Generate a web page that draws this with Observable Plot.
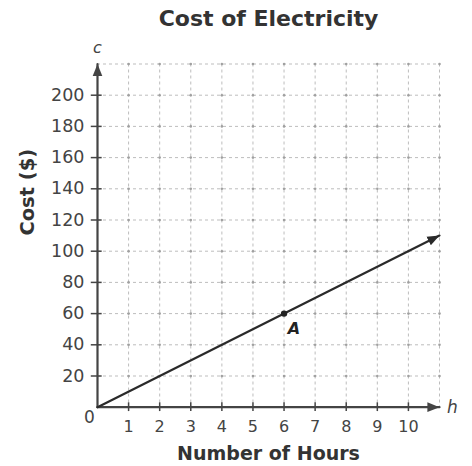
<!DOCTYPE html>
<html>
<head>
<meta charset="utf-8">
<script src="https://cdn.jsdelivr.net/npm/d3@7"></script>
<script src="https://cdn.jsdelivr.net/npm/@observablehq/plot@0.6"></script>
<style>
  html, body { margin: 0; padding: 0; background: #fff; }
  #chart svg { display: block; }
</style>
</head>
<body>
<div id="chart"></div>
<script>
// ---- data ----
const title = "Cost of Electricity";
const xLabel = "Number of Hours";
const yLabel = "Cost ($)";
const xVarLabel = "h";
const yVarLabel = "c";
const xDomain = [0, 11];
const yDomain = [0, 220];
const hourTicks = [1, 2, 3, 4, 5, 6, 7, 8, 9, 10];
const costTicks = [20, 40, 60, 80, 100, 120, 140, 160, 180, 200];
const gridHours = [1, 2, 3, 4, 5, 6, 7, 8, 9, 10, 11];
const gridCosts = [20, 40, 60, 80, 100, 120, 140, 160, 180, 200, 220];
const lineHours = [0, 11];
const lineCosts = [0, 110];
const pointA = { h: 6, c: 60, label: "A" };

// ---- derived tables ----
const lineData = lineHours.map((h, i) => ({ h, c: lineCosts[i] }));
const xAxisData = xDomain.map(h => ({ h, c: 0 }));
const yAxisData = yDomain.map(c => ({ h: 0, c }));
const gridDots = gridHours.flatMap(h => gridCosts.map(c => ({ h, c })));

function filledArrow(color, context) {
  const doc = context && context.document ? context.document : document;
  const m = doc.createElementNS("http://www.w3.org/2000/svg", "marker");
  m.setAttribute("viewBox", "-10 -5 10 10");
  m.setAttribute("markerWidth", "5.5");
  m.setAttribute("markerHeight", "5.5");
  m.setAttribute("orient", "auto");
  m.setAttribute("fill", color);
  m.setAttribute("stroke", "none");
  const p = doc.createElementNS("http://www.w3.org/2000/svg", "path");
  p.setAttribute("d", "M-10,-4L0,0L-10,4Z");
  m.appendChild(p);
  return m;
}

const font = "DejaVu Sans, Verdana, sans-serif";

const chart = Plot.plot({
  width: 472,
  height: 466,
  marginLeft: 97,
  marginRight: 33,
  marginTop: 63.5,
  marginBottom: 59.3,
  style: { fontFamily: font, background: "#fff" },
  x: { domain: xDomain, axis: null },
  y: { domain: yDomain, axis: null },
  marks: [
    // grid
    Plot.ruleX(gridHours, { stroke: "#bdbdbd", strokeWidth: 1, strokeDasharray: "3,3" }),
    Plot.ruleY(gridCosts, { stroke: "#bdbdbd", strokeWidth: 1, strokeDasharray: "3,3" }),
    Plot.dot(gridDots, { x: "h", y: "c", r: 1.3, fill: "#a0a0a0", stroke: "none" }),
    // axes with arrows
    Plot.line(xAxisData, { x: "h", y: "c", stroke: "#444", strokeWidth: 2.2, markerEnd: filledArrow }),
    Plot.line(yAxisData, { x: "h", y: "c", stroke: "#444", strokeWidth: 2.2, markerEnd: filledArrow }),
    // tick crosses
    Plot.ruleY(costTicks, { x1: -0.2, x2: 0.15, stroke: "#444", strokeWidth: 1.5 }),
    Plot.ruleX(hourTicks, { y1: -2.8, y2: 2.8, stroke: "#444", strokeWidth: 1.5 }),
    // tick labels
    Plot.text(costTicks, { x: 0, y: d => d, text: d => String(d), dx: -13, textAnchor: "end", fontSize: 17.5, fill: "#444" }),
    Plot.text(hourTicks, { x: d => d, y: 0, text: d => String(d), dy: 19.5, fontSize: 16, fill: "#444" }),
    Plot.text([0], { x: 0, y: 0, text: d => String(d), dx: -8, dy: 10, fontSize: 17, fill: "#444" }),
    // variable labels
    Plot.text([yVarLabel], { x: 0, y: yDomain[1], text: d => d, dy: -16, fontSize: 16, fontStyle: "italic", fill: "#444" }),
    Plot.text([xVarLabel], { x: xDomain[1], y: 0, text: d => d, dx: 13, dy: 0, fontSize: 17, fontStyle: "italic", fill: "#444" }),
    // data line
    Plot.line(lineData, { x: "h", y: "c", stroke: "#2a2a2a", strokeWidth: 2.2, markerEnd: filledArrow }),
    Plot.dot([pointA], { x: "h", y: "c", r: 3.2, fill: "#222" }),
    Plot.text([pointA], { x: "h", y: "c", text: "label", dx: 10, dy: 15, fontSize: 16, fontWeight: "bold", fontStyle: "italic", fill: "#222" }),
    // titles
    Plot.text([title], { frameAnchor: "top", lineAnchor: "middle", dy: -45, text: d => d, fontSize: 22, fontWeight: "bold", fill: "#333" }),
    Plot.text([xLabel], { frameAnchor: "bottom", lineAnchor: "middle", dy: 46.5, text: d => d, fontSize: 19, fontWeight: "bold", fill: "#333" }),
    Plot.text([yLabel], { frameAnchor: "left", dx: -70, dy: 0, rotate: -90, text: d => d, fontSize: 19.5, fontWeight: "bold", fill: "#333" })
  ]
});
document.getElementById("chart").appendChild(chart);
</script>
</body>
</html>
